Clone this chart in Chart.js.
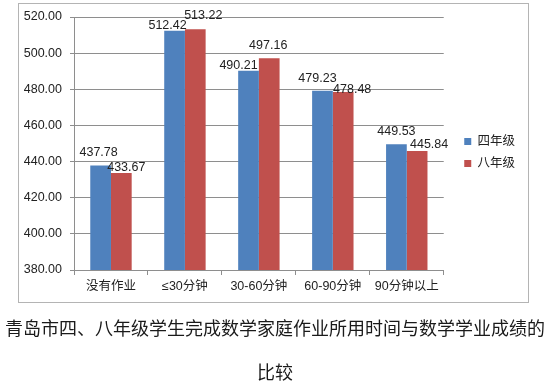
<!DOCTYPE html>
<html>
<head>
<meta charset="utf-8">
<script src="https://cdn.jsdelivr.net/npm/chart.js@4"></script>
<style>
  html, body { margin: 0; padding: 0; background: #ffffff; }
  body { width: 550px; height: 386px; position: relative; overflow: hidden; }
  #frame { position: absolute; left: 18px; top: 3px; width: 509px; height: 298px; border: 1px solid #b4b4b4; }
  #wrap { position: absolute; left: 0; top: 0; width: 550px; height: 386px; }
  .cap { position: absolute; left: 0; width: 550px; text-align: center; font-family: "Noto Sans CJK SC", sans-serif; font-size: 18px; line-height: 24px; color: #1a1a1a; white-space: nowrap; }
</style>
</head>
<body>
<div id="frame"></div>
<div id="wrap"><canvas id="c" width="550" height="386"></canvas></div>
<div class="cap" style="top:315px;">青岛市四、八年级学生完成数学家庭作业所用时间与数学学业成绩的</div>
<div class="cap" style="top:359px;">比较</div>
<script>
// ---- data ----
const categories = ["没有作业", "≤30分钟", "30-60分钟", "60-90分钟", "90分钟以上"];
const seriesNames = ["四年级", "八年级"];
const grade4 = [437.78, 512.42, 490.21, 479.23, 449.53];
const grade8 = [433.67, 513.22, 497.16, 478.48, 445.84];
const yTicks = [380, 400, 420, 440, 460, 480, 500, 520];

// ---- styles ----
const colors = ["#4F81BD", "#C0504D"];
const fontFamily = "'Liberation Sans', 'Noto Sans CJK SC', sans-serif";
const textColor = "#222222";
const gridColor = "#8e8e8e";
// label nudges (dx, dy above bar top) per series
const labelDx = [[-2, -7, -10, -5, 0], [5, 8, -1, 9, 12]];
const labelDy = [[13, 5, 5, 12, 13], [5, 14, 13, 2, 6]];

const valueLabels = {
  id: "valueLabels",
  afterDatasetsDraw(chart) {
    const ctx = chart.ctx;
    ctx.save();
    ctx.font = "12.5px " + fontFamily;
    ctx.fillStyle = textColor;
    ctx.textAlign = "center";
    ctx.textBaseline = "middle";
    chart.data.datasets.forEach((ds, di) => {
      const meta = chart.getDatasetMeta(di);
      meta.data.forEach((el, i) => {
        ctx.fillText(ds.data[i].toFixed(2), el.x + labelDx[di][i], el.y - labelDy[di][i]);
      });
    });
    ctx.restore();
  }
};

const legendNudge = {
  id: "legendNudge",
  afterLayout(chart) {
    const l = chart.legend;
    if (!l) return;
    l.left += 11; l.right += 11;
    l.top += 9; l.bottom += 9;
  }
};

new Chart(document.getElementById("c"), {
  type: "bar",
  data: {
    labels: categories,
    datasets: [
      { label: seriesNames[0], data: grade4, backgroundColor: colors[0], borderWidth: 0 },
      { label: seriesNames[1], data: grade8, backgroundColor: colors[1], borderWidth: 0 }
    ]
  },
  options: {
    responsive: false,
    animation: false,
    events: [],
    layout: { padding: { left: 0, top: 17, right: 36, bottom: 86 } },
    datasets: { bar: { categoryPercentage: 0.56, barPercentage: 1.0 } },
    plugins: {
      tooltip: { enabled: false },
      legend: {
        position: "right",
        fullSize: false,
        align: "center",
        labels: {
          boxWidth: 7, boxHeight: 7, padding: 9.5,
          color: textColor,
          font: { family: fontFamily, size: 12.5 }
        }
      }
    },
    scales: {
      x: {
        afterFit(s) { s.height = 30; },
        grid: { drawOnChartArea: false, drawTicks: true, tickLength: 5, color: gridColor, offset: true },
        border: { display: true, color: gridColor },
        ticks: { color: textColor, padding: 4, font: { family: fontFamily, size: 12.5 } }
      },
      y: {
        min: 380, max: 520,
        afterFit(s) { s.width = 74; },
        afterBuildTicks(s) { s.ticks = yTicks.map(v => ({ value: v })); },
        grid: { color: gridColor, tickLength: 4, drawTicks: true },
        border: { display: true, color: gridColor },
        ticks: { color: textColor, padding: 8, font: { family: fontFamily, size: 12.5 }, callback: v => Number(v).toFixed(2) }
      }
    }
  },
  plugins: [valueLabels, legendNudge]
});
</script>
</body>
</html>
